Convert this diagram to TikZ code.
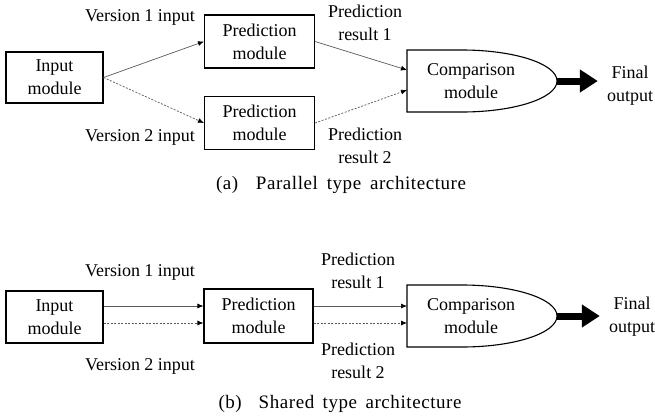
\documentclass[tikz,border=0pt]{standalone}
\usepackage{fontspec}
\setmainfont{Liberation Serif}
\newfontfamily\capfont[LetterSpace=3]{Liberation Serif}
\usetikzlibrary{arrows.meta}
\begin{document}
\begin{tikzpicture}[x=1pt,y=1pt,
  txt/.style={font=\fontsize{18}{23}\selectfont, align=center, inner sep=0pt},
  captxt/.style={font=\capfont\fontsize{19}{23}\selectfont, inner sep=0pt},
  modbox/.style={txt, draw, line width=1.1pt, minimum width=#1, minimum height=53pt},
  modbox/.default=110pt,
  link/.style={draw=black!65, line width=0.7pt, -{Latex[length=6pt,width=5pt,black]}},
  dlink/.style={link, dash pattern=on 2pt off 1.5pt},
  bigarrow/.style={line width=7pt, shorten >=9pt, -{Triangle[length=18pt,width=22pt]}},
  cmpshape/.style={draw, line width=1.1pt}]
\useasboundingbox (0,0) rectangle (655,-418);

% ---------- (a) parallel type ----------
\node[modbox=97pt, minimum height=51pt] (inA) at (54.5,-77.5) {Input\\module};
\node[modbox] (predA1) at (259.5,-41.5) {Prediction\\module};
\node[modbox] (predA2) at (259.5,-123) {Prediction\\module};

% comparison unit: flat left part, elliptical right end
\draw[cmpshape] (462,-50) -- (407,-50) -- (407,-112) -- (462,-112)
  arc[start angle=-90, end angle=90, x radius=95, y radius=31];
\node[txt] (cmpA) at (471,-81) {Comparison\\module};
\coordinate (cmpAin1) at (407,-70);
\coordinate (cmpAin2) at (407,-90);
\coordinate (cmpAout) at (557,-81);
\node[txt] (outA) at (630,-86) {Final\\output};

\draw[link]  (inA.east) -- (predA1.west);
\draw[dlink] (inA.east) -- (predA2.west);
\draw[link]  (predA1.east) -- (cmpAin1);
\draw[dlink] (predA2.east) -- (cmpAin2);
\draw[bigarrow] (cmpAout) -- (outA.west |- cmpAout);

\node[txt] (v1A) at (140,-17) {Version 1 input};
\node[txt] (v2A) at (140,-137) {Version 2 input};
\node[txt] (r1A) at (365,-23) {Prediction\\result 1};
\node[txt] (r2A) at (365,-146) {Prediction\\result 2};
\node[captxt] (capA) at (341,-185) {\makebox[250pt][s]{(a)\ \ Parallel type architecture}};

% ---------- (b) shared type ----------
\node[modbox=97pt, minimum height=52pt] (inB) at (54.5,-317) {Input\\module};
\node[modbox=109pt, minimum height=54pt] (predB) at (258.5,-316) {Prediction\\module};

\draw[cmpshape] (462,-285) -- (407,-285) -- (407,-347) -- (462,-347)
  arc[start angle=-90, end angle=90, x radius=95, y radius=31];
\node[txt] (cmpB) at (471,-316) {Comparison\\module};
\coordinate (cmpBin1) at (407,-306);
\coordinate (cmpBin2) at (407,-323);
\coordinate (cmpBout) at (557,-316);
\node[txt] (outB) at (632,-317) {Final\\output};

\draw[link]  (inB.east |- 0,-306) -- (predB.west |- 0,-306);
\draw[dlink] (inB.east |- 0,-323) -- (predB.west |- 0,-323);
\draw[link]  (predB.east |- 0,-306) -- (cmpBin1);
\draw[dlink] (predB.east |- 0,-323) -- (cmpBin2);
\draw[bigarrow] (cmpBout) -- (outB.west |- cmpBout);

\node[txt] (v1B) at (140,-272) {Version 1 input};
\node[txt] (v2B) at (140,-366) {Version 2 input};
\node[txt] (r1B) at (358,-271) {Prediction\\result 1};
\node[txt] (r2B) at (358,-361) {Prediction\\result 2};
\node[captxt] (capB) at (340,-404) {\makebox[243pt][s]{(b)\ \ Shared type architecture}};
\end{tikzpicture}
\end{document}
